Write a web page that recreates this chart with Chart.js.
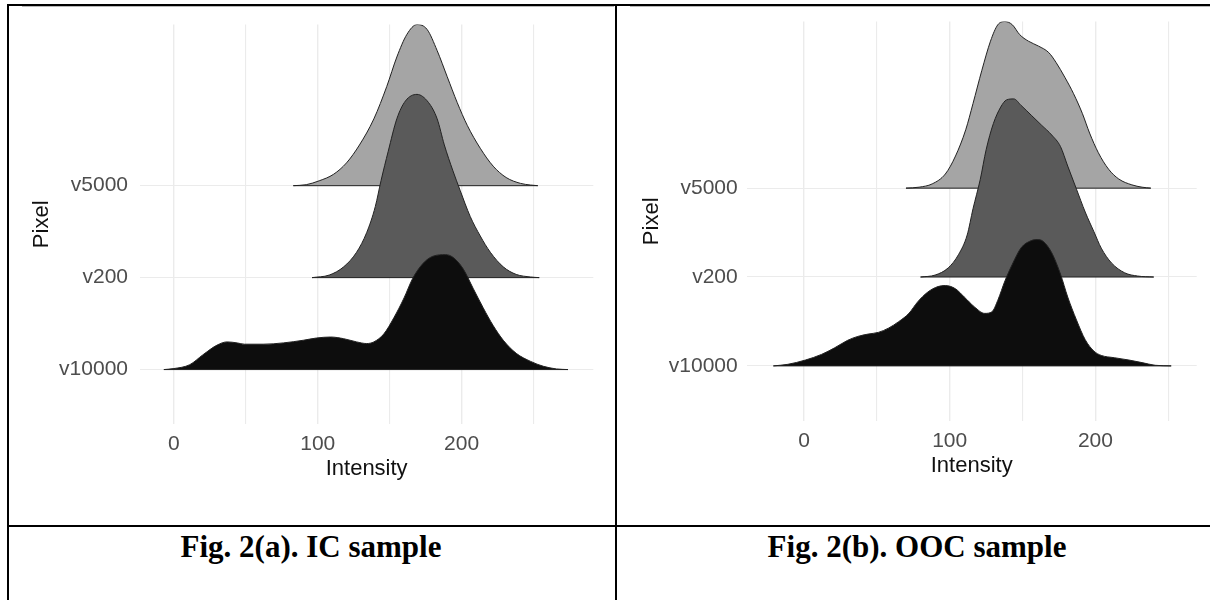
<!DOCTYPE html>
<html>
<head>
<meta charset="utf-8">
<script src="https://cdn.jsdelivr.net/npm/chart.js@4.4.1/dist/chart.umd.min.js"></script>
<style>
  html, body { margin: 0; padding: 0; background: #fff; }
  body { width: 1210px; height: 600px; position: relative; overflow: hidden; }
  canvas { position: absolute; top: 0; }
  #icChart { left: 0; }
  #oocChart { left: 610px; }
  .rule { position: absolute; background: #000; z-index: 2; }
  .edge { position: absolute; top: 6px; height: 1px; background: #b8b8b8; z-index: 2; }
  .caption {
    position: absolute; top: 531px; width: 600px; margin-left: -300px;
    text-align: center; color: #000;
    font: bold 31px/31px "Liberation Serif", "Times New Roman", serif;
  }
</style>
</head>
<body>
<canvas id="icChart" width="605" height="490"></canvas>
<canvas id="oocChart" width="600" height="487"></canvas>

<div class="rule" style="left:7px;top:4px;width:1203px;height:2px"></div>
<div class="rule" style="left:7px;top:4px;width:2px;height:596px"></div>
<div class="rule" style="left:615px;top:4px;width:2px;height:596px"></div>
<div class="rule" style="left:7px;top:525px;width:1203px;height:2px"></div>
<div class="edge" style="left:22px;width:592px"></div>
<div class="edge" style="left:630px;width:580px"></div>

<div class="caption" style="left:311px">Fig. 2(a). IC sample</div>
<div class="caption" style="left:917px">Fig. 2(b). OOC sample</div>

<script>
// rows from bottom to top
const pixelLabels = ['v10000', 'v200', 'v5000'];
const ridgeColors = ['#0d0d0d', '#5a5a5a', '#a5a5a5'];
const intensityTicks = [0, 50, 100, 150, 200, 250];

// IC sample: intensity positions and ridge heights (in row units)
const icX10000 = [-7, 0, 11, 20, 30, 37, 44, 49, 62, 76, 90, 99, 109, 118, 127, 134, 139, 146, 153, 160, 166, 173, 180, 189, 194, 201, 208, 215, 222, 229, 238, 248, 257, 266, 274];
const icH10000 = [0, 0.011, 0.053, 0.159, 0.266, 0.301, 0.290, 0.276, 0.276, 0.290, 0.319, 0.343, 0.354, 0.336, 0.301, 0.283, 0.301, 0.389, 0.566, 0.779, 0.991, 1.151, 1.232, 1.250, 1.221, 1.098, 0.885, 0.673, 0.478, 0.319, 0.177, 0.089, 0.035, 0.007, 0];
const icX200 = [96, 108, 118, 127, 134, 140, 144, 149, 155, 161, 169, 177, 183, 188, 194, 199, 206, 213, 220, 229, 238, 248, 254];
const icH200 = [0, 0.028, 0.117, 0.276, 0.489, 0.772, 1.055, 1.374, 1.728, 1.922, 1.993, 1.905, 1.728, 1.444, 1.161, 0.949, 0.666, 0.453, 0.276, 0.117, 0.035, 0.007, 0];
const icX5000 = [83, 92, 101, 111, 120, 129, 139, 148, 155, 162, 169, 176, 183, 190, 197, 204, 213, 222, 231, 241, 248, 253];
const icH5000 = [0, 0.011, 0.053, 0.124, 0.248, 0.443, 0.726, 1.08, 1.40, 1.646, 1.753, 1.70, 1.47, 1.186, 0.903, 0.655, 0.407, 0.212, 0.089, 0.025, 0.007, 0];

// OOC sample
const oocX10000 = [-21, -11, 1, 12, 21, 30, 37, 44, 51, 58, 65, 72, 78, 85, 92, 97, 104, 110, 117, 124, 129, 133, 138, 143, 149, 156, 160, 164, 170, 176, 181, 187, 193, 199, 204, 213, 223, 232, 241, 252];
const oocH10000 = [0, 0.018, 0.066, 0.129, 0.203, 0.288, 0.332, 0.358, 0.377, 0.425, 0.498, 0.591, 0.720, 0.831, 0.893, 0.904, 0.867, 0.775, 0.664, 0.591, 0.609, 0.738, 0.960, 1.144, 1.329, 1.410, 1.421, 1.403, 1.274, 1.034, 0.775, 0.517, 0.295, 0.166, 0.118, 0.092, 0.066, 0.037, 0.007, 0];
const oocX200 = [80, 90, 99, 106, 112, 116, 121, 125, 130, 135, 139, 144, 149, 156, 163, 170, 176, 181, 187, 193, 199, 204, 211, 220, 229, 240];
const oocH200 = [0, 0.022, 0.103, 0.251, 0.473, 0.768, 1.100, 1.432, 1.728, 1.912, 1.993, 2.004, 1.931, 1.820, 1.709, 1.598, 1.469, 1.248, 0.989, 0.731, 0.509, 0.325, 0.159, 0.048, 0.011, 0];
const oocX5000 = [70, 79, 88, 97, 104, 111, 116, 122, 128, 133, 138, 143, 148, 154, 161, 168, 173, 179, 185, 191, 196, 202, 209, 216, 225, 232, 238];
const oocH5000 = [0, 0.011, 0.048, 0.159, 0.362, 0.657, 0.952, 1.322, 1.654, 1.838, 1.875, 1.838, 1.728, 1.654, 1.598, 1.525, 1.414, 1.248, 1.063, 0.842, 0.620, 0.399, 0.214, 0.103, 0.037, 0.011, 0];

const tickFont = { family: '"Liberation Sans", Arial, sans-serif', size: 21 };
const titleFont = { family: '"Liberation Sans", Arial, sans-serif', size: 22 };
const gridStyle = {
    color: '#ebebeb',
    lineWidth: c => (c.tick && c.tick.value % 100 === 0 ? 1.4 : 1.1),
    drawTicks: false
};

// each row: a filled curve sitting on its baseline plus the baseline stroke.
// lower rows come first so they are painted on top.
function ridgeDatasets(rows) {
    const sets = [];
    rows.forEach((row, i) => {
        const base = i + 1;
        const first = row.x[0];
        const last = row.x[row.x.length - 1];
        sets.push({
            data: [{ x: first, y: base }, { x: last, y: base }],
            borderColor: '#222',
            borderWidth: 1,
            pointRadius: 0,
            fill: false
        });
        sets.push({
            data: row.x.map((x, j) => ({ x: x, y: base + row.h[j] })),
            borderColor: '#222',
            borderWidth: 1,
            backgroundColor: ridgeColors[i],
            pointRadius: 0,
            cubicInterpolationMode: 'monotone',
            fill: { value: base }
        });
    });
    return sets;
}

function createRidgeChart(id, rows, cfg) {
    return new Chart(document.getElementById(id), {
        type: 'line',
        data: { datasets: ridgeDatasets(rows) },
        options: {
            responsive: false,
            animation: false,
            events: [],
            layout: { padding: { top: 15, right: cfg.padRight, bottom: 8, left: 0 } },
            plugins: { legend: { display: false }, tooltip: { enabled: false } },
            scales: {
                x: {
                    type: 'linear',
                    min: cfg.xMin,
                    max: cfg.xMax,
                    afterBuildTicks: s => { s.ticks = intensityTicks.map(v => ({ value: v })); },
                    afterFit: s => { s.height = 58; },
                    grid: gridStyle,
                    border: { display: false },
                    ticks: {
                        padding: 8,
                        color: '#4d4d4d',
                        font: tickFont,
                        maxRotation: 0,
                        autoSkip: false,
                        callback: v => (v % 100 === 0 ? String(v) : '')
                    },
                    title: { display: true, text: 'Intensity', color: '#111', font: titleFont, padding: 0 }
                },
                y: {
                    type: 'linear',
                    min: cfg.yMin,
                    max: cfg.yMax,
                    afterBuildTicks: s => { s.ticks = pixelLabels.map((_, i) => ({ value: i + 1 })); },
                    afterFit: s => { s.width = cfg.axisWidth; },
                    grid: gridStyle,
                    border: { display: false },
                    ticks: {
                        padding: cfg.tickPad,
                        color: '#4d4d4d',
                        font: tickFont,
                        callback: v => pixelLabels[v - 1]
                    },
                    title: { display: true, text: 'Pixel', color: '#111', font: titleFont, padding: { top: 29, bottom: 0 } }
                }
            }
        }
    });
}

createRidgeChart('icChart', [
    { x: icX10000, h: icH10000 },
    { x: icX200, h: icH200 },
    { x: icX5000, h: icH5000 }
], { xMin: -23.6, xMax: 291.6, yMin: 0.408, yMax: 4.752, axisWidth: 140, tickPad: 12, padRight: 11.7 });

createRidgeChart('oocChart', [
    { x: oocX10000, h: oocH10000 },
    { x: oocX200, h: oocH200 },
    { x: oocX5000, h: oocH5000 }
], { xMin: -39.3, xMax: 269.5, yMin: 0.38, yMax: 4.874, axisWidth: 136.7, tickPad: 9, padRight: 13.3 });
</script>
</body>
</html>
